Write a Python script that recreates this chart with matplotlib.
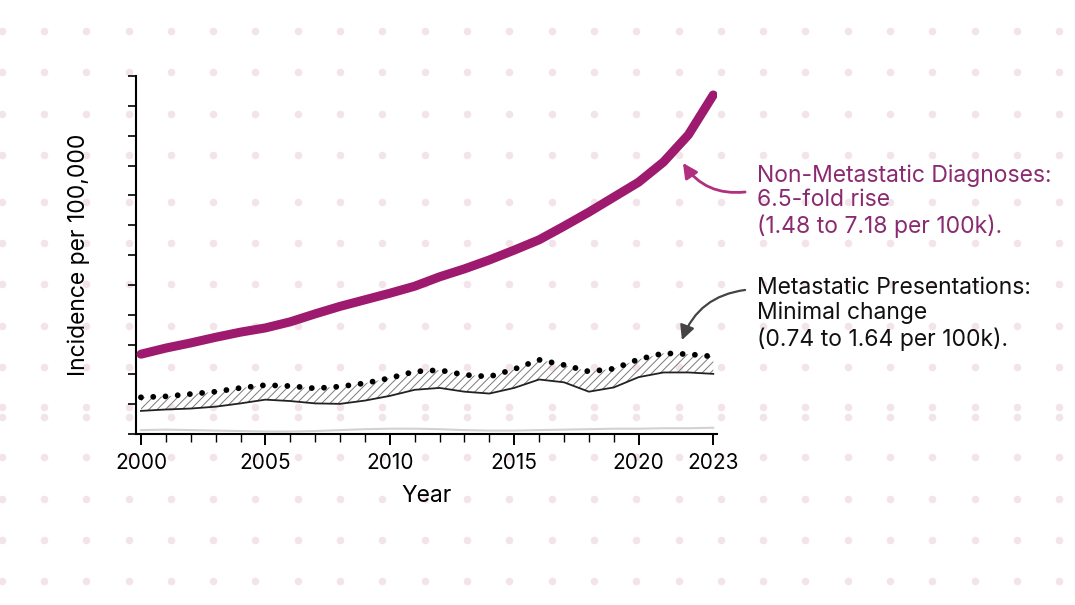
"""Sketch-style incidence chart: non-metastatic vs metastatic presentations, 2000-2023."""

import matplotlib

matplotlib.use("Agg")
import matplotlib.pyplot as plt
from matplotlib.ticker import FixedLocator, LinearLocator

# ---- data (per 100k) ----
years = list(range(2000, 2024))
non_metastatic = [1.65, 1.78, 1.89, 2.01, 2.12, 2.21, 2.34, 2.51, 2.67, 2.81, 2.95, 3.10,
                  3.30, 3.47, 3.66, 3.87, 4.09, 4.38, 4.68, 5.00, 5.32, 5.75, 6.33, 7.18]
metastatic_upper = [0.73, 0.75, 0.80, 0.85, 0.93, 0.99, 0.97, 0.92, 0.96, 1.03, 1.14, 1.28,
                    1.31, 1.21, 1.17, 1.33, 1.53, 1.42, 1.28, 1.34, 1.54, 1.67, 1.65, 1.60]
metastatic_lower = [0.44, 0.47, 0.49, 0.53, 0.60, 0.68, 0.65, 0.60, 0.59, 0.66, 0.76, 0.89,
                    0.93, 0.85, 0.81, 0.93, 1.11, 1.05, 0.85, 0.94, 1.16, 1.26, 1.26, 1.23]
baseline = [0.03, 0.04, 0.03, 0.02, 0.01, 0.00, 0.00, 0.01, 0.03, 0.05, 0.06, 0.06,
            0.05, 0.03, 0.02, 0.02, 0.03, 0.04, 0.05, 0.06, 0.06, 0.07, 0.07, 0.08]

major_years = [2000, 2005, 2010, 2015, 2020, 2023]
minor_years = [y for y in range(2001, 2020) if y not in major_years]

pink_text = "Non-Metastatic Diagnoses:\n6.5-fold rise\n(1.48 to 7.18 per 100k)."
black_text = "Metastatic Presentations:\nMinimal change\n(0.74 to 1.64 per 100k)."

PINK = "#9d1a6f"
PINK_TEXT = "#8a2a70"
FONT = "Inter"

plt.rcParams["font.family"] = [FONT, "DejaVu Sans"]
plt.rcParams["hatch.linewidth"] = 0.7

fig = plt.figure(figsize=(10.75, 6.05), dpi=100)

# dotted paper background
bg = fig.add_axes([0, 0, 1, 1], zorder=-5)
bg.set_xlim(0, 1075)
bg.set_ylim(605, 0)
bg.axis("off")
dot_cols = [1.7 + 42.3 * i for i in range(26)]
dot_rows = [31, 72, 114, 155, 202, 243, 284, 326, 367, 407, 417, 457, 499, 540, 581]
bx = [c for r in dot_rows for c in dot_cols]
by = [r for r in dot_rows for c in dot_cols]
bg.scatter(bx, by, s=30, color="#f2e4ea", linewidths=0)

ax = fig.add_axes([136 / 1075, 1 - 434 / 605, (717 - 136) / 1075, (434 - 76) / 605])
ax.patch.set_alpha(0)

ax.plot(years, baseline, color="#d2d2d2", lw=1.5, zorder=2)
ax.fill_between(years, metastatic_lower, metastatic_upper, facecolor="none",
                edgecolor="#7a7a7a", hatch="////", linewidth=0, zorder=2)
ax.plot(years, metastatic_lower, color="#222222", lw=1.3, zorder=3)
ax.plot(years, metastatic_upper, color="black", lw=4.2, linestyle=(0, (0.001, 2.1)),
        dash_capstyle="round", zorder=4)
ax.plot(years, non_metastatic, color=PINK, lw=6.5, solid_capstyle="round",
        solid_joinstyle="round", zorder=5)

ax.set_xlim(1999.8, 2023.15)
ax.set_ylim(-0.053, 7.585)

ax.xaxis.set_major_locator(FixedLocator(major_years))
ax.xaxis.set_minor_locator(FixedLocator(minor_years))
ax.yaxis.set_major_locator(LinearLocator(13))
ax.tick_params(axis="x", which="major", length=8, width=1.4, labelsize=15, pad=6)
ax.tick_params(axis="x", which="minor", length=6, width=1.0)
ax.tick_params(axis="y", length=6, width=1.2, labelleft=False)
for side in ("top", "right"):
    ax.spines[side].set_visible(False)
for side in ("left", "bottom"):
    ax.spines[side].set_linewidth(1.5)

ax.set_xlabel("Year", fontsize=16.5, labelpad=8)
ax.set_ylabel("Incidence per 100,000", fontsize=16.5, labelpad=27)

# annotations
ax.annotate("", xy=(2021.78, 5.73), xytext=(2024.28, 5.11), annotation_clip=False,
            arrowprops=dict(arrowstyle="-|>", color="#b0307f", lw=2, mutation_scale=22,
                            connectionstyle="arc3,rad=-0.3", shrinkA=0, shrinkB=0))
ax.annotate("", xy=(2021.74, 1.95), xytext=(2024.28, 3.02), annotation_clip=False,
            arrowprops=dict(arrowstyle="-|>", color="#444444", lw=1.6, mutation_scale=22,
                            connectionstyle="arc3,rad=0.3", shrinkA=0, shrinkB=0))
fig.text(757 / 1075, 1 - 201 / 605, pink_text, color=PINK_TEXT, fontsize=16.5,
         va="center", ha="left", linespacing=1.15)
fig.text(757 / 1075, 1 - 314 / 605, black_text, color="#111111", fontsize=16.5,
         va="center", ha="left", linespacing=1.15)

fig.savefig("out.png", dpi=100, facecolor="white")
